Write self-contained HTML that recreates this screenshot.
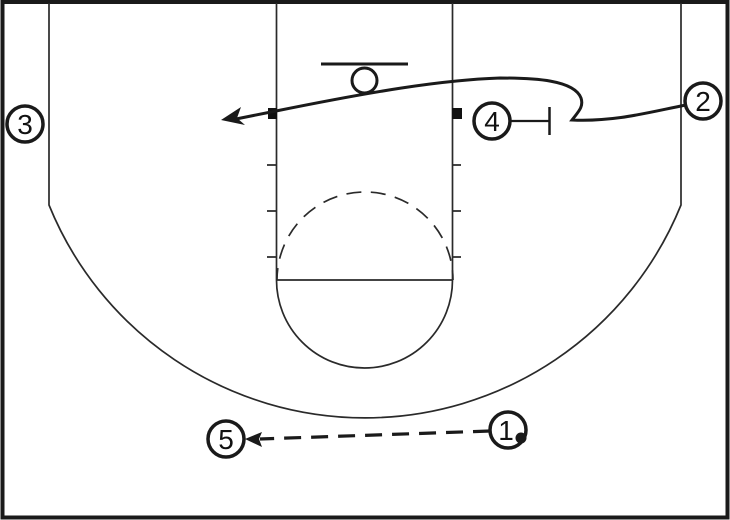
<!DOCTYPE html>
<html>
<head>
<meta charset="utf-8">
<style>
html,body{margin:0;padding:0;background:#fff;}
svg{display:block;}
text{font-family:"Liberation Sans",sans-serif;font-size:28px;fill:#111;text-anchor:middle;}
</style>
</head>
<body>
<svg width="730" height="520" viewBox="0 0 730 520" xmlns="http://www.w3.org/2000/svg">
<rect width="730" height="520" fill="#fff"/>
<rect x="2.500" y="2" width="725" height="515.500" fill="none" stroke="#1a1a1a" stroke-width="4"/>
<g fill="none" stroke="#2a2a2a" stroke-width="1.700">
<path d="M49 3V205A341 341 0 0 0 681 205V3"/>
<path d="M276.500 3V280A88 88 0 0 0 452.500 280V3"/>
<path d="M276.500 280H452.500"/>
<path d="M277 280A88 88 0 0 1 453 280" stroke-dasharray="15 9.500" stroke-dashoffset="3"/>
<path d="M267 165H276M267 211H276M267 257H276M452 165H461M452 211H461M452 257H461"/>
</g>
<rect x="268" y="108" width="9" height="11" fill="#111"/>
<rect x="452" y="108" width="10" height="11" fill="#111"/>
<path d="M321 64H408" stroke="#1a1a1a" stroke-width="3" fill="none"/>
<circle cx="364.500" cy="80.500" r="12.500" fill="#fff" stroke="#1a1a1a" stroke-width="3"/>
<path d="M686 105C650 112 615 122 572 120C578 112 584 107 581 98C574 80 535 78 500 78C440 80 370 92 276 111L236 119" fill="none" stroke="#1a1a1a" stroke-width="3"/>
<path d="M221 120L241 107L237 118L245 125Z" fill="#1a1a1a"/>
<path d="M510 121H549" stroke="#1a1a1a" stroke-width="2.200" fill="none"/>
<path d="M549.500 107V135" stroke="#1a1a1a" stroke-width="2.500" fill="none"/>
<path d="M490 431L260 439" stroke="#1a1a1a" stroke-width="3.200" stroke-dasharray="17 10" fill="none"/>
<path d="M245 439L262 432L259 439L262 447Z" fill="#1a1a1a"/>
<g fill="#fff" stroke="#1a1a1a" stroke-width="3.500">
<circle cx="25" cy="124" r="18"/>
<circle cx="703" cy="101" r="18"/>
<circle cx="492" cy="121" r="18"/>
<circle cx="226" cy="439" r="18"/>
<circle cx="508" cy="430" r="18"/>
</g>
<circle cx="521" cy="438" r="5.500" fill="#1a1a1a"/>
<text x="25" y="134">3</text>
<text x="703" y="111">2</text>
<text x="492" y="131">4</text>
<text x="226" y="449">5</text>
<text x="506" y="440">1</text>
</svg>
</body>
</html>
